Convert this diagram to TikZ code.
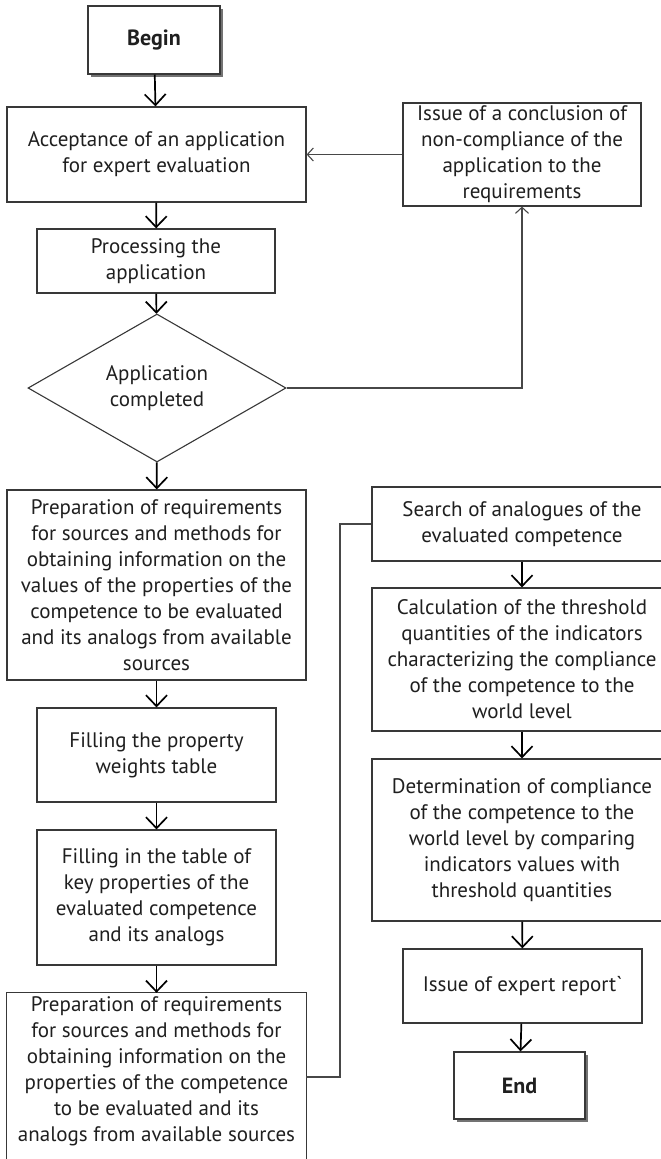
\documentclass[tikz,border=0pt]{standalone}
\usepackage{fontspec}
\setmainfont{PT Sans}
\newfontfamily\rawfont{PT Sans}
\usetikzlibrary{arrows.meta,shapes.geometric,shadows}

\begin{document}
\begin{tikzpicture}[x=1pt,y=-1pt,
  txt/.style={font=\fontsize{21}{26}\selectfont, text=black!88, align=center},
  box/.style={txt, draw=black!78, line width=1.2pt, fill=white, inner sep=0pt,
    rectangle},
  term/.style={box, font=\fontsize{22}{26}\selectfont\bfseries,
    drop shadow={shadow xshift=3pt, shadow yshift=-3pt, fill=black!55, opacity=1}},
  decision/.style={txt, draw=black!78, line width=1.1pt, fill=white, inner sep=0pt,
    diamond, aspect=1.74},
  flow/.style={draw=black, line width=1.7pt,
    -{Straight Barb[length=11pt, width=21pt, line width=1.7pt]}},
  back/.style={draw=black!72, line width=1.1pt,
    -{Straight Barb[length=6pt, width=13pt, line width=1.1pt]}},
  link/.style={draw=black!72, line width=1.1pt},
]
\useasboundingbox (0,0) rectangle (661,1159);

% left column
\node[term, minimum width=132pt, minimum height=68pt] (begin) at (154,40) {Begin};
\node[box, minimum width=299pt, minimum height=95pt] (accept) at (156.5,154.5)
  {Acceptance of an application\\for expert evaluation};
\node[box, minimum width=238pt, minimum height=64pt] (proc) at (156,261)
  {Processing the\\application};
\node[decision, minimum width=258pt, minimum height=148pt] (dec) at (157,388)
  {Application\\completed};
\node[box, minimum width=299pt, minimum height=190pt] (prep1) at (156.5,585)
  {Preparation of requirements\\for sources and methods for\\obtaining information on the\\values of the properties of the\\competence to be evaluated\\and its analogs from available\\sources};
\node[box, minimum width=239pt, minimum height=94pt] (fill1) at (156.5,755)
  {Filling the property\\weights table};
\node[box, minimum width=239pt, minimum height=135pt] (fill2) at (156.5,897.5)
  {Filling in the table of\\key properties of the\\evaluated competence\\and its analogs};
\node[txt, inner sep=0pt, minimum width=299pt, minimum height=156pt] (prep2) at (156.5,1071)
  {Preparation of requirements\\for sources and methods for\\obtaining information on the\\properties of the competence\\to be evaluated and its\\analogs from available sources};
\draw[black!78, line width=1.2pt] (prep2.north west) rectangle ([yshift=-40pt]prep2.south east);

% rejection branch
\node[box, minimum width=238pt, minimum height=103pt] (issue) at (522,154.5)
  {Issue of a conclusion of\\non-compliance of the\\application to the\\requirements};

% right column
\node[box, minimum width=300pt, minimum height=74pt] (search) at (522,524)
  {Search of analogues of the\\evaluated competence};
\node[box, minimum width=300pt, minimum height=143pt] (calc) at (522,659.5)
  {Calculation of the threshold\\quantities of the indicators\\characterizing the compliance\\of the competence to the\\world level};
\node[box, minimum width=300pt, minimum height=162pt] (det) at (522,840)
  {Determination of compliance\\of the competence to the\\world level by comparing\\indicators values with\\threshold quantities};
\node[box, minimum width=239pt, minimum height=74pt] (report) at (522.5,986)
  {Issue of expert report{\rawfont`}};
\node[term, minimum width=131pt, minimum height=67pt] (end) at (519.5,1085.5) {End};

% connectors
\draw[flow] (begin) -- (accept);
\draw[flow] (accept) -- (proc);
\draw[flow] (proc) -- (dec);
\draw[flow] (dec) -- (prep1);
\draw[flow] (prep1) -- (fill1);
\draw[flow] (fill1) -- (fill2);
\draw[flow] (fill2) -- (prep2);
\draw[back] (dec.east) -| (issue.south);
\draw[back] (issue.west) -- (accept.east);
\coordinate (jog) at (340,1077);
\draw[link] (prep2.east |- jog) -- (jog) |- (search.west);
\draw[flow] (search) -- (calc);
\draw[flow] (calc) -- (det);
\draw[flow] (det) -- (report);
\draw[flow] (report) -- (end);
\end{tikzpicture}
\end{document}
